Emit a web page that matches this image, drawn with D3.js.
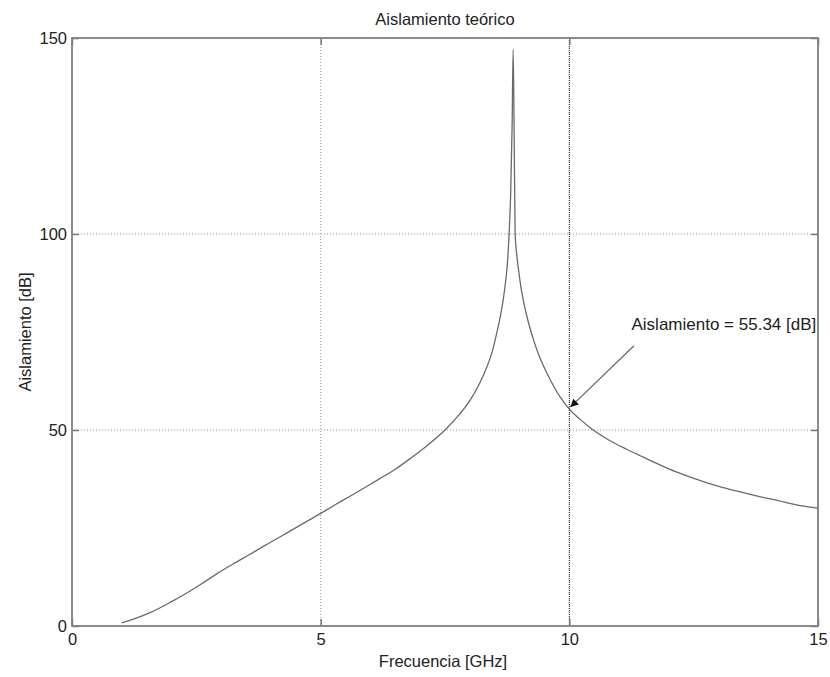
<!DOCTYPE html>
<html lang="es">
<head>
<meta charset="utf-8">
<title>Aislamiento teórico</title>
<script src="https://cdnjs.cloudflare.com/ajax/libs/d3/7.8.5/d3.min.js"></script>
<style>
  body { margin: 0; background: #fff; }
  text { font-family: Arial, "Liberation Sans", sans-serif; fill: #222; }
</style>
</head>
<body>
<div id="chart"></div>
<script>
// frecuencia [GHz] y aislamiento [dB]
var freq = [1.0, 1.25, 1.57, 2.0, 2.24, 2.6, 2.91, 3.25, 3.58, 3.9, 4.25, 4.6, 5.01, 5.3, 5.59, 5.9,
            6.19, 6.5, 6.8, 7.1, 7.5, 7.75, 8.0, 8.2, 8.34, 8.45, 8.54, 8.62, 8.67, 8.72, 8.75, 8.79,
            8.82, 8.85, 8.87, 8.89, 8.91, 8.94, 8.97, 9.02, 9.07, 9.17, 9.28, 9.4, 9.55, 9.68, 9.81,
            10.0, 10.2, 10.48, 10.8, 11.15, 11.5, 11.82, 12.15, 12.49, 12.8, 13.16, 13.5, 13.83,
            14.2, 14.5, 14.75, 15.0];
var aislamiento = [0.8, 1.8, 3.4, 6.2, 7.9, 10.7, 13.3, 15.9, 18.3, 20.7, 23.2, 25.8, 28.8, 31.0, 33.1, 35.4,
            37.6, 40.0, 42.7, 45.6, 50.0, 53.4, 57.5, 62.0, 66.0, 70.0, 74.7, 79.5, 83.2, 88.0, 91.7, 100.3,
            110, 128, 147, 126, 100.2, 95, 91.7, 87, 83.4, 77.8, 73.0, 68.7, 64.5, 61.3, 58.5,
            55.34, 52.9, 50.0, 47.4, 45.1, 43.0, 41.1, 39.3, 37.7, 36.4, 35.1, 34.0, 33.0,
            32.0, 31.1, 30.5, 30.0];
var xTicks = [0, 5, 10, 15];
var yTicks = [0, 50, 100, 150];
var marker = [10, 55.34];           // punto marcado
var arrowTail = [11.3, 71.5];       // origen de la flecha
var labelPos = [11.25, 75.5];
var labelText = "Aislamiento = 55.34 [dB]";

var width = 830, height = 677;
var mLeft = 72, mRight = 818, mTop = 38, mBottom = 626;

var svg = d3.select("#chart").append("svg")
    .attr("width", width)
    .attr("height", height);

var x = d3.scaleLinear().domain([0, 15]).range([mLeft, mRight]);
var y = d3.scaleLinear().domain([0, 150]).range([mBottom, mTop]);

svg.append("defs").append("marker")
    .attr("id", "head")
    .attr("viewBox", "0 0 10 10")
    .attr("refX", 10).attr("refY", 5)
    .attr("markerWidth", 10).attr("markerHeight", 8)
    .attr("markerUnits", "userSpaceOnUse")
    .attr("orient", "auto")
    .append("path").attr("d", "M0,0 L10,5 L0,10 z").attr("fill", "#111");

// grid
svg.append("g").selectAll("line")
    .data(xTicks.slice(1, -1)).enter().append("line")
    .attr("x1", function(d){ return x(d); }).attr("x2", function(d){ return x(d); })
    .attr("y1", mTop).attr("y2", mBottom)
    .attr("stroke", "#999").attr("stroke-dasharray", "1,2");
svg.append("g").selectAll("line")
    .data(yTicks.slice(1, -1)).enter().append("line")
    .attr("y1", function(d){ return y(d); }).attr("y2", function(d){ return y(d); })
    .attr("x1", mLeft).attr("x2", mRight)
    .attr("stroke", "#999").attr("stroke-dasharray", "1,2");

// linea vertical del marcador
svg.append("line")
    .attr("x1", x(marker[0])).attr("x2", x(marker[0]))
    .attr("y1", mTop).attr("y2", mBottom)
    .attr("stroke", "#222").attr("stroke-dasharray", "1,1");

// ejes con ticks hacia dentro
var axisStyle = function(g) {
  g.select(".domain").remove();
  g.selectAll("line").attr("stroke", "#777").attr("stroke-width", 1.5);
  g.selectAll("text").attr("font-size", "16.5px").attr("fill", "#222");
};
svg.append("g").attr("transform", "translate(0," + mBottom + ")")
    .call(d3.axisBottom(x).tickValues(xTicks).tickSizeInner(-7).tickSizeOuter(0).tickPadding(7))
    .call(axisStyle);
svg.append("g").attr("transform", "translate(0," + mTop + ")")
    .call(d3.axisTop(x).tickValues(xTicks).tickSizeInner(-7).tickSizeOuter(0).tickFormat(""))
    .call(axisStyle);
svg.append("g").attr("transform", "translate(" + mLeft + ",0)")
    .call(d3.axisLeft(y).tickValues(yTicks).tickSizeInner(-7).tickSizeOuter(0).tickPadding(5))
    .call(axisStyle);
svg.append("g").attr("transform", "translate(" + mRight + ",0)")
    .call(d3.axisRight(y).tickValues(yTicks).tickSizeInner(-7).tickSizeOuter(0).tickFormat(""))
    .call(axisStyle);

// caja
svg.append("rect")
    .attr("x", mLeft).attr("y", mTop)
    .attr("width", mRight - mLeft).attr("height", mBottom - mTop)
    .attr("fill", "none").attr("stroke", "#808080").attr("stroke-width", 1.8);

// curva
var pts = freq.map(function(f, i){ return [f, aislamiento[i]]; });
var line = d3.line()
    .x(function(d){ return x(d[0]); })
    .y(function(d){ return y(d[1]); })
    .curve(d3.curveMonotoneX);
svg.append("path")
    .datum(pts)
    .attr("d", line)
    .attr("fill", "none")
    .attr("stroke", "#6a6a6a")
    .attr("stroke-width", 1.3);

// anotacion
svg.append("line")
    .attr("x1", x(arrowTail[0])).attr("y1", y(arrowTail[1]))
    .attr("x2", x(marker[0]) + 1).attr("y2", y(marker[1]) - 2)
    .attr("stroke", "#666").attr("stroke-width", 1.2)
    .attr("marker-end", "url(#head)");
svg.append("text")
    .attr("x", x(labelPos[0])).attr("y", y(labelPos[1]))
    .attr("font-size", "17px")
    .text(labelText);

// titulos
svg.append("text")
    .attr("x", (mLeft + mRight) / 2).attr("y", 25)
    .attr("text-anchor", "middle").attr("font-size", "16.5px")
    .text("Aislamiento teórico");
svg.append("text")
    .attr("x", (mLeft + mRight) / 2 - 2).attr("y", 667)
    .attr("text-anchor", "middle").attr("font-size", "16.5px")
    .text("Frecuencia [GHz]");
svg.append("text")
    .attr("transform", "translate(31," + (mTop + mBottom) / 2 + ") rotate(-90)")
    .attr("text-anchor", "middle").attr("font-size", "16.5px")
    .text("Aislamiento [dB]");
</script>
</body>
</html>
